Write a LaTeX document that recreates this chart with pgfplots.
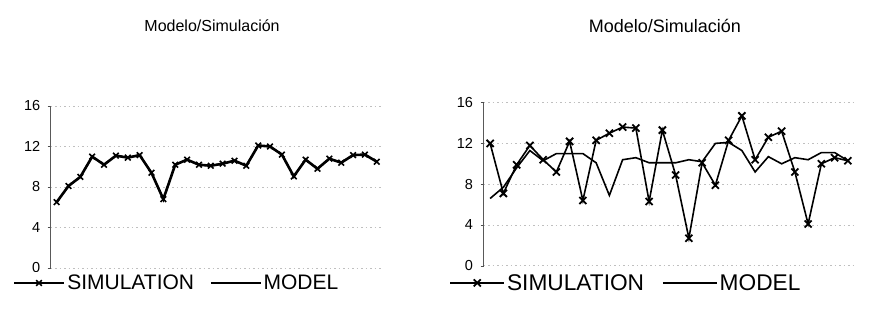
\documentclass[border=0pt]{standalone}
\usepackage{pgfplots}
\pgfplotsset{compat=1.18}
\usepackage{fontspec}
\setmainfont{Liberation Sans}
\begin{document}
\begin{tikzpicture}
\useasboundingbox (0pt,0pt) rectangle (887pt,329pt);
\pgfplotsset{
  base/.style={
    scale only axis, xmin=0.5, xmax=28.5, ymin=0, ymax=16,
    ytick={0,4,8,12,16}, xtick=\empty,
    axis y line*=left, axis x line=none,
    axis line style={-, draw=black!65, line width=0.8pt},
    y tick style={draw=black!70},
    tick align=outside, major tick length=3pt,
    ymajorgrids, grid style={dash pattern=on 1.5pt off 3pt, draw=black!25, line width=0.6pt},
    /pgf/number format/assume math mode=true,
    yticklabel style={font=\fontsize{14.5}{14.5}\selectfont, xshift=-4pt},
    legend columns=2,
    clip=false,
  },
}
\begin{axis}[base, at={(50.7pt,61pt)}, width=332pt, height=162pt,
  title={Modelo/Simulación},
  title style={at={(axis description cs:0.486,1.457)}, anchor=center, font=\fontsize{16}{16}\selectfont},
  legend style={at={(axis description cs:-0.118,-0.093)}, anchor=west, draw=none, fill=white,
    inner sep=1pt, font=\fontsize{21}{21}\selectfont,
    /tikz/every even column/.append style={column sep=14pt}},
  legend image code/.code={\draw[mark repeat=2,mark phase=2,#1] plot coordinates {(0pt,0pt) (25pt,0pt) (50pt,0pt)};},
]
\addplot[black, line width=2.6pt, mark=x, mark size=4pt, mark options={line width=1.6pt}] coordinates {
(1,6.5) (2,8.1) (3,9.0) (4,11.0) (5,10.2) (6,11.1) (7,10.9) (8,11.15) (9,9.4) (10,6.8)
(11,10.2) (12,10.7) (13,10.2) (14,10.1) (15,10.3) (16,10.6) (17,10.1) (18,12.1) (19,12.0) (20,11.2)
(21,9.05) (22,10.7) (23,9.8) (24,10.8) (25,10.4) (26,11.15) (27,11.2) (28,10.5)};
\addlegendentry{SIMULATION}
\addplot[black, line width=1.5pt] coordinates {
(1,6.5) (2,8.1) (3,9.0) (4,11.0) (5,10.2) (6,11.1) (7,10.9) (8,11.15) (9,9.4) (10,6.8)
(11,10.2) (12,10.7) (13,10.2) (14,10.1) (15,10.3) (16,10.6) (17,10.1) (18,12.1) (19,12.0) (20,11.2)
(21,9.05) (22,10.7) (23,9.8) (24,10.8) (25,10.4) (26,11.15) (27,11.2) (28,10.5)};
\addlegendentry{MODEL}
\end{axis}
\begin{axis}[base, at={(483.5pt,63.2pt)}, width=371pt, height=163.2pt,
  title={Modelo/Simulación},
  title style={at={(axis description cs:0.489,1.433)}, anchor=center, font=\fontsize{18}{18}\selectfont},
  legend style={at={(axis description cs:-0.095,-0.105)}, anchor=west, draw=none, fill=white,
    inner sep=1pt, font=\fontsize{22.7}{22.7}\selectfont,
    /tikz/every even column/.append style={column sep=16pt}},
  legend image code/.code={\draw[mark repeat=2,mark phase=2,#1] plot coordinates {(0pt,0pt) (27pt,0pt) (54pt,0pt)};},
]
\addplot[black, line width=1.6pt, mark=x, mark size=5pt, mark options={line width=1.8pt}] coordinates {
(1,12.0) (2,7.1) (3,9.9) (4,11.8) (5,10.4) (6,9.2) (7,12.2) (8,6.4) (9,12.3) (10,13.0)
(11,13.6) (12,13.5) (13,6.3) (14,13.3) (15,8.9) (16,2.7) (17,10.1) (18,7.9) (19,12.3) (20,14.7)
(21,10.4) (22,12.6) (23,13.2) (24,9.2) (25,4.1) (26,10.0) (27,10.6) (28,10.3)};
\addlegendentry{SIMULATION}
\addplot[black, line width=1.6pt] coordinates {
(1,6.6) (2,7.7) (3,9.6) (4,11.3) (5,10.3) (6,11.0) (7,11.0) (8,11.0) (9,10.1) (10,6.9)
(11,10.4) (12,10.6) (13,10.1) (14,10.1) (15,10.1) (16,10.4) (17,10.2) (18,12.0) (19,12.1) (20,11.3)
(21,9.2) (22,10.7) (23,10.0) (24,10.6) (25,10.4) (26,11.1) (27,11.1) (28,10.3)};
\addlegendentry{MODEL}
\end{axis}
\end{tikzpicture}
\end{document}
